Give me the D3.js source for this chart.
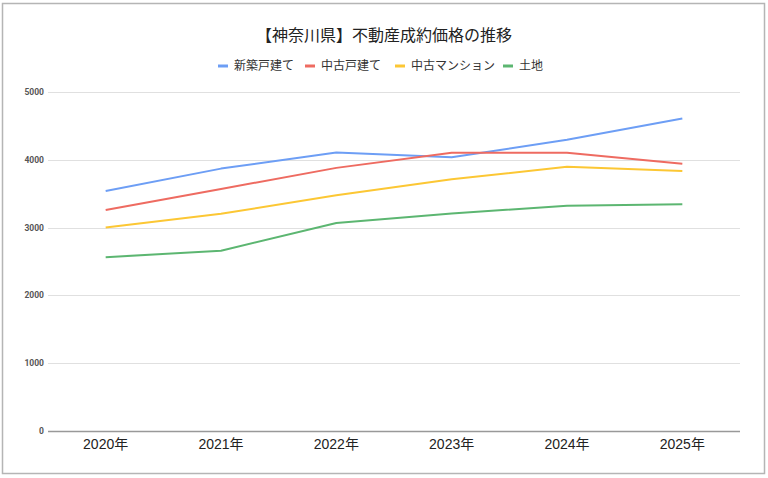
<!DOCTYPE html>
<html>
<head>
<meta charset="utf-8">
<script src="https://cdn.jsdelivr.net/npm/d3@7"></script>
<style>
  body { margin: 0; background: #fff; }
  svg { display: block; font-family: Roboto, "Noto Sans CJK JP", sans-serif; }
</style>
</head>
<body>
<svg id="chart" width="768" height="478"></svg>
<script>
const years = ["2020年", "2021年", "2022年", "2023年", "2024年", "2025年"];
const seriesNames = ["新築戸建て", "中古戸建て", "中古マンション", "土地"];
const shinchikuKodate = [3540, 3870, 4108, 4036, 4297, 4610];
const chukoKodate = [3258, 3569, 3881, 4104, 4104, 3940];
const chukoMansion = [3001, 3204, 3476, 3713, 3896, 3833];
const tochi = [2564, 2659, 3069, 3209, 3323, 3343];
const yTicks = [0, 1000, 2000, 3000, 4000, 5000];
const colors = ["#6d9ef5", "#ee6b61", "#fcc734", "#5cb671"];

const seriesValues = [shinchikuKodate, chukoKodate, chukoMansion, tochi];

const svg = d3.select("#chart");

// outer chart border
svg.append("rect")
  .attr("x", 2.5).attr("y", 3.5)
  .attr("width", 762).attr("height", 470)
  .attr("fill", "#fff")
  .attr("stroke", "#b5b5b5")
  .attr("stroke-width", 1.5);

const plot = { left: 48, right: 740, top: 92, bottom: 431 };

const x = d3.scaleBand()
  .domain(years)
  .range([plot.left, plot.right]);

const y = d3.scaleLinear()
  .domain([0, 5000])
  .range([plot.bottom, plot.top]);

// title
svg.append("text")
  .attr("x", 384).attr("y", 41)
  .attr("text-anchor", "middle")
  .attr("font-size", 16)
  .attr("fill", "#222")
  .text("【神奈川県】不動産成約価格の推移");

// legend
const legendX = [218, 305, 395, 503];
const legend = svg.append("g");
seriesNames.forEach((name, i) => {
  const g = legend.append("g").attr("transform", `translate(${legendX[i]}, 66)`);
  g.append("line")
    .attr("x1", 0).attr("x2", 10)
    .attr("stroke", colors[i])
    .attr("stroke-width", 3);
  g.append("text")
    .attr("x", 16).attr("dy", "0.35em")
    .attr("font-size", 12)
    .attr("fill", "#333")
    .text(name);
});

// gridlines + y labels
const yAxis = svg.append("g");
yAxis.selectAll("line")
  .data(yTicks)
  .join("line")
  .attr("x1", plot.left).attr("x2", plot.right)
  .attr("y1", (d) => Math.round(y(d)) + 0.5)
  .attr("y2", (d) => Math.round(y(d)) + 0.5)
  .attr("stroke", (d) => (d === 0 ? "#999" : "#e0e0e0"))
  .attr("stroke-width", (d) => (d === 0 ? 1.5 : 1));

yAxis.selectAll("text")
  .data(yTicks)
  .join("text")
  .attr("x", 44)
  .attr("y", (d) => y(d))
  .attr("dy", "0.35em")
  .attr("text-anchor", "end")
  .attr("font-size", 8.5)
  .attr("font-weight", "bold")
  .attr("fill", "#555")
  .text((d) => d);

// x labels
const xAxis = d3.axisBottom(x).tickSize(0).tickPadding(8);
svg.append("g")
  .attr("transform", `translate(0, ${plot.bottom})`)
  .call(xAxis)
  .call((g) => g.select(".domain").remove())
  .call((g) => g.selectAll("text")
    .attr("font-size", 14)
    .attr("fill", "#222")
    .attr("font-family", "'Liberation Sans', 'Noto Sans CJK JP', sans-serif"));

// lines
const line = d3.line()
  .x((d, i) => x(years[i]) + x.bandwidth() / 2)
  .y((d) => y(d));

svg.append("g")
  .selectAll("path")
  .data(seriesValues)
  .join("path")
  .attr("d", line)
  .attr("fill", "none")
  .attr("stroke", (d, i) => colors[i])
  .attr("stroke-width", 2)
  .attr("stroke-linejoin", "round");
</script>
</body>
</html>
